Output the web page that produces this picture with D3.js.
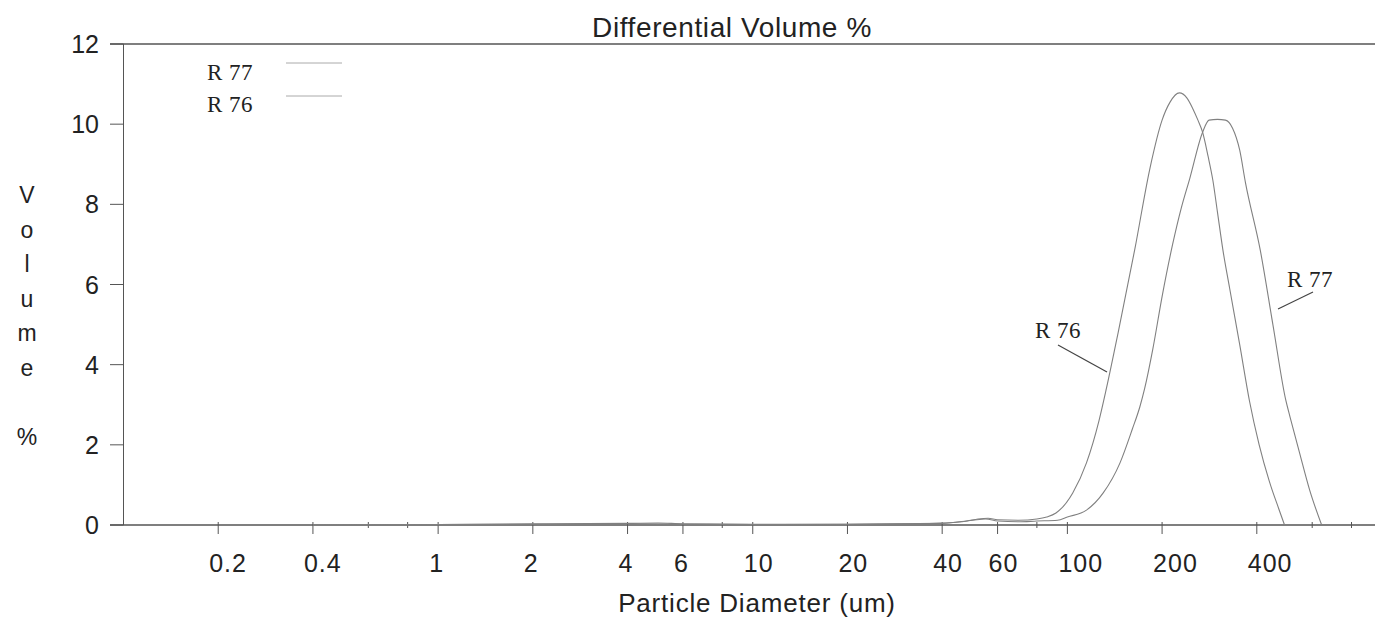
<!DOCTYPE html>
<html>
<head>
<meta charset="utf-8">
<script src="https://cdn.jsdelivr.net/npm/d3@7"></script>
<style>
  body { margin: 0; background: #fff; }
  svg { display: block; }
  .sans { font-family: "Liberation Sans", Arial, sans-serif; fill: #222; }
  .serif { font-family: "Liberation Serif", "Times New Roman", serif; fill: #222; }
</style>
</head>
<body>
<div id="wrapper"></div>
<script>
// ---------------- data
const r76Diam = [0.4, 1, 2, 4, 5, 6, 10, 20, 30, 40, 48, 52, 56, 60, 70, 80, 86, 92, 104, 115, 126, 133, 145, 164, 183, 200, 212, 227, 240, 250, 260, 269, 280, 290, 300, 312, 328, 353, 379, 407, 438, 470, 490]
const r76Vol  = [0, 0.01, 0.03, 0.04, 0.05, 0.03, 0.02, 0.02, 0.03, 0.05, 0.1, 0.15, 0.17, 0.13, 0.12, 0.15, 0.2, 0.3, 0.8, 1.55, 2.6, 3.4, 4.8, 6.9, 8.9, 10.1, 10.55, 10.78, 10.65, 10.4, 10.1, 9.8, 9.2, 8.6, 7.8, 6.87, 5.9, 4.5, 3.1, 2.0, 1.1, 0.4, 0]

const r77Diam = [0.4, 1, 2, 4, 6, 10, 20, 40, 50, 55, 60, 70, 80, 93, 100, 115, 130, 147, 161, 170, 176, 187, 200, 216, 230, 245, 269, 282, 300, 318, 335, 353, 368, 410, 450, 495, 510, 547, 589, 643]
const r77Vol  = [0, 0.01, 0.02, 0.03, 0.02, 0.01, 0.02, 0.04, 0.12, 0.15, 0.1, 0.08, 0.1, 0.12, 0.2, 0.37, 0.8, 1.55, 2.4, 2.95, 3.4, 4.4, 5.7, 7.0, 7.9, 8.65, 9.8, 10.1, 10.12, 10.1, 9.9, 9.35, 8.55, 6.87, 5.0, 3.1, 2.7, 1.8, 0.87, 0]

const xLabelTicks = [0.2, 0.4, 1, 2, 4, 6, 10, 20, 40, 60, 100, 200, 400]
const xMinorTicks = [0.6, 0.8, 8, 80, 600, 800]
const yTicks = [0, 2, 4, 6, 8, 10, 12]
const yTitleLetters = ["V", "o", "l", "u", "m", "e", "", "%"]

const series = [
    { name: "R 77", diam: r77Diam, vol: r77Vol },
    { name: "R 76", diam: r76Diam, vol: r76Vol }
]

// ---------------- dimensions
const dimensions = {
    width: 1375,
    height: 621,
    left: 123.5,
    right: 1382,
    top: 44,
    bottom: 525
}

const svg = d3.select("#wrapper")
    .append("svg")
    .attr("width", dimensions.width)
    .attr("height", dimensions.height)

// ---------------- scales
const xScale = d3.scaleLog()
    .domain([0.1, 1000])
    .range([dimensions.left, dimensions.right])

const yScale = d3.scaleLinear()
    .domain([0, 12])
    .range([dimensions.bottom, dimensions.top])

const axisColor = "#555"

// ---------------- frame: top line, y axis, x axis
svg.append("line")
    .attr("x1", 110).attr("x2", dimensions.width)
    .attr("y1", yScale(12)).attr("y2", yScale(12))
    .attr("stroke", axisColor).attr("stroke-width", 1.3)

svg.append("line")
    .attr("x1", xScale(0.1)).attr("x2", xScale(0.1))
    .attr("y1", yScale(12)).attr("y2", yScale(0))
    .attr("stroke", axisColor).attr("stroke-width", 1)

svg.append("line")
    .attr("x1", 110).attr("x2", dimensions.width)
    .attr("y1", yScale(0)).attr("y2", yScale(0))
    .attr("stroke", axisColor).attr("stroke-width", 1.3)

// y ticks
const yAxis = svg.append("g")
yAxis.selectAll("line")
    .data(yTicks)
    .join("line")
    .attr("x1", 110).attr("x2", xScale(0.1))
    .attr("y1", d => yScale(d)).attr("y2", d => yScale(d))
    .attr("stroke", axisColor)
yAxis.selectAll("text")
    .data(yTicks)
    .join("text")
    .attr("class", "sans")
    .attr("x", 99)
    .attr("y", d => yScale(d))
    .attr("dy", "0.36em")
    .attr("text-anchor", "end")
    .attr("font-size", 25)
    .text(d => d)

// x ticks
const xAxis = svg.append("g")
xAxis.selectAll(".major")
    .data(xLabelTicks)
    .join("line")
    .attr("class", "major")
    .attr("x1", d => xScale(d)).attr("x2", d => xScale(d))
    .attr("y1", yScale(0) - 3).attr("y2", yScale(0) + 9)
    .attr("stroke", axisColor)
xAxis.selectAll(".minor")
    .data(xMinorTicks)
    .join("line")
    .attr("class", "minor")
    .attr("x1", d => xScale(d)).attr("x2", d => xScale(d))
    .attr("y1", yScale(0) - 3).attr("y2", yScale(0) + 3)
    .attr("stroke", axisColor)
xAxis.selectAll("text")
    .data(xLabelTicks)
    .join("text")
    .attr("class", "sans")
    .attr("x", d => xScale(d) - 9)
    .attr("y", 572)
    .attr("font-size", 25)
    .attr("letter-spacing", 1)
    .text(d => d)

// ---------------- titles
svg.append("text")
    .attr("class", "sans")
    .attr("x", 732).attr("y", 37)
    .attr("text-anchor", "middle")
    .attr("font-size", 28)
    .attr("letter-spacing", 0.6)
    .text("Differential Volume %")

svg.append("text")
    .attr("class", "sans")
    .attr("x", 757).attr("y", 612)
    .attr("text-anchor", "middle")
    .attr("font-size", 26)
    .attr("letter-spacing", 0.8)
    .text("Particle Diameter (um)")

svg.append("g")
    .selectAll("text")
    .data(yTitleLetters)
    .join("text")
    .attr("class", "sans")
    .attr("x", 27)
    .attr("y", (d, i) => 203 + i * 34.5)
    .attr("text-anchor", "middle")
    .attr("font-size", 23)
    .text(d => d)

// ---------------- curves
const line = d3.line()
    .x(d => xScale(d.d))
    .y(d => yScale(d.v))
    .curve(d3.curveMonotoneX)

svg.append("g")
    .selectAll("path")
    .data(series)
    .join("path")
    .attr("d", s => line(s.diam.map((d, i) => ({ d: d, v: s.vol[i] }))))
    .attr("fill", "none")
    .attr("stroke", "#808080")
    .attr("stroke-width", 1.1)

// ---------------- legend
const legend = svg.append("g")
legend.selectAll("text")
    .data(series)
    .join("text")
    .attr("class", "serif")
    .attr("x", 207)
    .attr("y", (d, i) => 80 + i * 32)
    .attr("font-size", 23)
    .attr("letter-spacing", 0.5)
    .text(d => d.name)
legend.selectAll("line")
    .data(series)
    .join("line")
    .attr("x1", 286).attr("x2", 342)
    .attr("y1", (d, i) => 63 + i * 33).attr("y2", (d, i) => 63 + i * 33)
    .attr("stroke", "#aaa")

// ---------------- curve labels with leaders
const callouts = [
    { name: "R 77", tx: 1287, ty: 287, x1: 1313, y1: 292, x2: 1278, y2: 309 },
    { name: "R 76", tx: 1035, ty: 338, x1: 1058, y1: 345, x2: 1107, y2: 372 }
]
const callG = svg.append("g")
callG.selectAll("text")
    .data(callouts)
    .join("text")
    .attr("class", "serif")
    .attr("x", d => d.tx).attr("y", d => d.ty)
    .attr("font-size", 23)
    .attr("letter-spacing", 0.5)
    .text(d => d.name)
callG.selectAll("line")
    .data(callouts)
    .join("line")
    .attr("x1", d => d.x1).attr("y1", d => d.y1)
    .attr("x2", d => d.x2).attr("y2", d => d.y2)
    .attr("stroke", "#444")
    .attr("stroke-width", 1.2)
</script>
</body>
</html>
